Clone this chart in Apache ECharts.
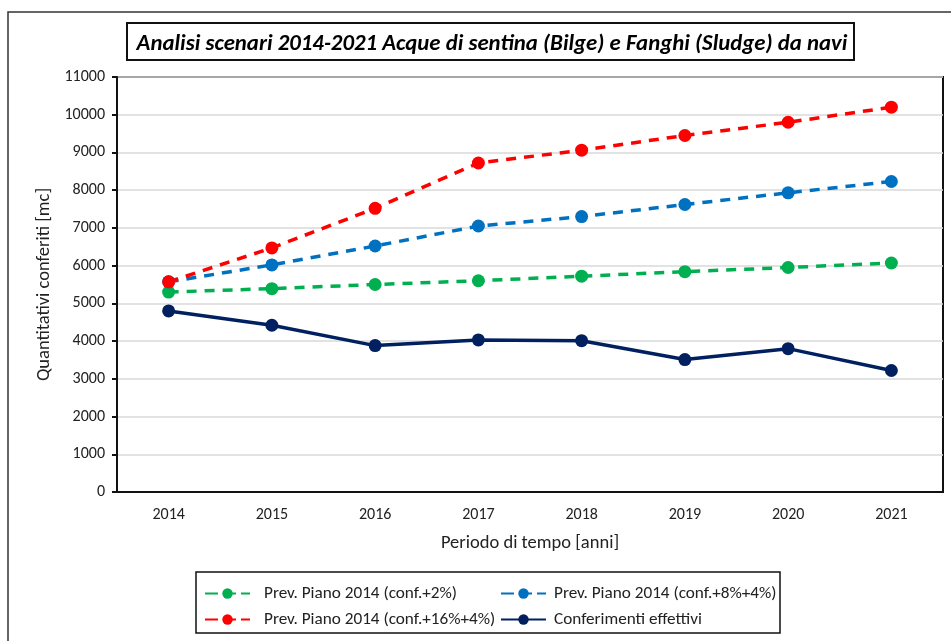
<!DOCTYPE html>
<html>
<head>
<meta charset="utf-8">
<script src="https://cdn.jsdelivr.net/npm/echarts@6/dist/echarts.min.js"></script>
<style>
  html, body { margin: 0; padding: 0; background: #fff; }
  #chart { width: 951px; height: 641px; }
</style>
</head>
<body>
<div id="chart"></div>
<script>
// dati
const anni = ['2014', '2015', '2016', '2017', '2018', '2019', '2020', '2021'];
const prev2 = [5300, 5390, 5500, 5600, 5720, 5840, 5950, 6070];
const prev8 = [5570, 6020, 6520, 7050, 7300, 7620, 7930, 8230];
const prev16 = [5570, 6470, 7520, 8720, 9060, 9450, 9800, 10200];
const effettivi = [4800, 4420, 3880, 4030, 4010, 3510, 3800, 3220];

const nomi = [
  'Prev. Piano 2014 (conf.+2%)',
  'Prev. Piano 2014 (conf.+8%+4%)',
  'Prev. Piano 2014 (conf.+16%+4%)',
  'Conferimenti effettivi'
];

const font = 'Carlito, Calibri, "Open Sans", sans-serif';

const chart = echarts.init(document.getElementById('chart'));

function serie(nome, dati, colore, tratteggio) {
  return {
    name: nome,
    type: 'line',
    data: dati,
    symbol: 'circle',
    symbolSize: 13,
    itemStyle: { color: colore },
    lineStyle: { color: colore, width: 3.5, type: tratteggio ? [10, 8] : 'solid' },
    z: 3
  };
}

// voce di legenda: tratteggio corto come nel grafico di Excel
function voce(nome, tratteggio) {
  return tratteggio ? { name: nome, lineStyle: { type: [13, 5] } } : { name: nome };
}

function legenda(voci, left, spazio) {
  return {
    data: voci,
    orient: 'vertical',
    left: left,
    top: 580,
    itemGap: 9,
    itemWidth: 45,
    itemHeight: 13,
    textStyle: { fontFamily: font, fontSize: 17.2, color: '#222', padding: [0, 0, 0, spazio] }
  };
}

const option = {
  backgroundColor: '#fff',
  animation: false,
  title: {
    text: 'Analisi scenari 2014-2021 Acque di sentina (Bilge) e Fanghi (Sludge) da navi',
    left: 487,
    textAlign: 'center',
    top: 28,
    textStyle: {
      fontFamily: font,
      fontStyle: 'italic',
      fontWeight: 'bold',
      fontSize: 22.8,
      color: '#000'
    }
  },
  graphic: [
    // cornice esterna
    { type: 'rect', shape: { x: 8, y: 12, width: 980, height: 700 },
      style: { fill: null, stroke: '#333', lineWidth: 1.5 }, silent: true },
    // riquadro titolo
    { type: 'rect', shape: { x: 127, y: 23, width: 727, height: 37 },
      style: { fill: null, stroke: '#111', lineWidth: 2 }, silent: true },
    // riquadro legenda
    { type: 'rect', shape: { x: 196, y: 572, width: 584, height: 61 },
      style: { fill: null, stroke: '#111', lineWidth: 1.5 }, silent: true }
  ],
  legend: [
    legenda([voce(nomi[0], true), voce(nomi[2], true)], 199, 9),
    legenda([voce(nomi[1], true), voce(nomi[3], false)], 495, 3)
  ],
  grid: {
    left: 117, right: 8, top: 77, bottom: 149,
    show: true, borderColor: '#111', borderWidth: 2
  },
  xAxis: {
    type: 'category',
    data: anni,
    name: 'Periodo di tempo [anni]',
    nameLocation: 'middle',
    nameGap: 42,
    nameTextStyle: { fontFamily: font, fontSize: 18.5, color: '#222' },
    axisLine: { lineStyle: { color: '#111', width: 2 } },
    axisTick: { alignWithLabel: true, length: 4, lineStyle: { color: '#111', width: 2 } },
    axisLabel: { fontFamily: font, fontSize: 16, color: '#222', margin: 15 }
  },
  yAxis: {
    type: 'value',
    min: 0,
    max: 11000,
    interval: 1000,
    name: 'Quantitativi conferiti [mc]',
    nameLocation: 'middle',
    nameGap: 59,
    nameTextStyle: { fontFamily: font, fontSize: 18.5, color: '#222' },
    axisLine: { show: true, lineStyle: { color: '#111', width: 2 } },
    axisTick: { show: true, length: 5, lineStyle: { color: '#111', width: 2 } },
    axisLabel: { fontFamily: font, fontSize: 16, color: '#222', margin: 12,
      formatter: v => String(v) },
    splitLine: { lineStyle: { color: '#d9d9d9', width: 1.5 } }
  },
  series: [
    serie(nomi[0], prev2, '#00b050', true),
    serie(nomi[1], prev8, '#0070c0', true),
    serie(nomi[2], prev16, '#ff0000', true),
    serie(nomi[3], effettivi, '#002060', false)
  ]
};

chart.setOption(option);
window.addEventListener('resize', chart.resize);
</script>
</body>
</html>
